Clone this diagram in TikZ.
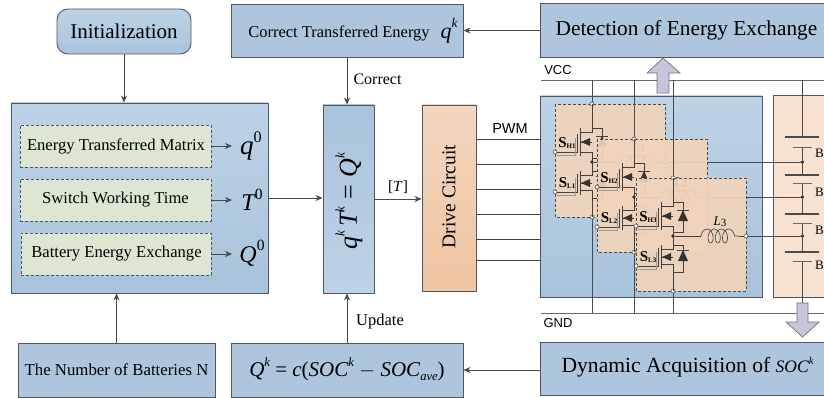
\documentclass[tikz,border=0pt]{standalone}
\usepackage{fontspec}
\setmainfont{Liberation Serif}
\newfontfamily\arialf{Liberation Sans}
\usetikzlibrary{arrows.meta,decorations.pathmorphing}
\newcommand{\fsz}[1]{\fontsize{#1}{#1}\selectfont}
\newcommand{\upx}[2][.6]{\raisebox{.48em}{\scalebox{#1}{#2}}}
\newcommand{\dnx}[2][.6]{\raisebox{-.2em}{\scalebox{#1}{#2}}}
\definecolor{edgec}{HTML}{4F5860}
\definecolor{wirec}{HTML}{4A4A4A}
\definecolor{blueT}{HTML}{BDD2E6}
\definecolor{blueB}{HTML}{A9C3DC}
\definecolor{blueM}{HTML}{ADC6DE}
\definecolor{peach}{HTML}{F1D4BA}
\definecolor{peachL}{HTML}{F8E3D2}
\definecolor{driveT}{HTML}{F3D6BE}
\definecolor{driveB}{HTML}{EFC4A2}
\definecolor{greenb}{HTML}{DDE5D3}
\definecolor{arrowfill}{HTML}{C9C3DB}
\tikzset{
  x=1pt,y=-1pt,
  boxs/.style={draw=edgec,line width=.9pt,inner sep=0pt,align=center,top color=blueT,bottom color=blueB},
  flatbox/.style={draw=edgec,line width=.9pt,inner sep=0pt,align=center,fill=blueM},
  dashbox/.style={draw=edgec,densely dashed,line width=.7pt,inner sep=0pt,fill=greenb,minimum width=191pt,minimum height=42pt},
  arr/.style={draw=wirec,line width=.8pt,-{Stealth[length=7pt,width=6pt]}},
  wire/.style={draw=wirec,line width=.8pt},
  thin wire/.style={draw=black!75,line width=.6pt},
  cellbox/.style={draw=black!70,densely dashed,line width=.7pt},
  opn/.style={circle,draw=black!75,fill=white,line width=.5pt,inner sep=0pt,minimum size=4pt},
  dotn/.style={circle,fill=black!80,inner sep=0pt,minimum size=3.6pt},
  txt/.style={inner sep=0pt},
  bigarrow/.style={draw=black!55,line width=.7pt,fill=arrowfill},
}
\newcommand{\swlab}[1]{{\fsz{15}\bfseries S}\raisebox{-.1em}{\fsz{7}\bfseries #1}}
% #1 id, #2 x, #3 y, #4 H label, #5 L label, #6 inductor name
\newcommand{\cellc}[6]{%
\begin{scope}[shift={(#2,#3)}]
  \fill[peach,fill opacity=.92] (0,0) rectangle (110,113);
  \draw[cellbox] (0,0) rectangle (110,113);
  \node[txt] (c#1hl) at (12,39) {\swlab{#4}};
  \node[txt] (c#1ll) at (12,79) {\swlab{#5}};
  \coordinate (c#1mid) at (37,58);
  \coordinate (c#1lst) at (65,58);
  \coordinate (c#1len) at (103,58);
  \node[opn] (c#1top) at (37,0) {};
  \node[opn] (c#1bot) at (37,113) {};
  \node[opn] (c#1gh) at (0,48) {};
  \node[opn] (c#1gl) at (0,88) {};
  \node[opn] (c#1out) at (110,58) {};
  \draw[thin wire] (37,0) -- (37,28) -- (25,28) (25,24) -- (25,52) (25,48) -- (37,48) -- (37,71) -- (25,71) (25,67) -- (25,91) (25,86) -- (37,86) -- (37,113);
  \draw[thin wire] (c#1gh) -- (22,48) -- (22,30) (c#1gl) -- (22,88) -- (22,70);
  \draw[draw=black!40,line width=.6pt] (2,51) -- (20,51) -- (20,34) (2,91) -- (20,91) -- (20,74);
  \draw[thin wire] (25,38) -- (37,38) (25,79) -- (37,79);
  \fill[black!80] (26,38) -- (35,34) -- (35,42) -- cycle (26,79) -- (35,75) -- (35,83) -- cycle;
  \draw[thin wire] (37,24) -- (47,24) -- (47,54) -- (37,54) (37,67) -- (47,67) -- (47,94) -- (37,94);
  \fill[black!80] (47,32) -- (52,43) -- (42,43) -- cycle (47,72) -- (52,83) -- (42,83) -- cycle;
  \draw[thin wire,line width=.8pt] (41,32) -- (53,32) (41,72) -- (53,72);
  \node[dotn] (c#1d) at (c#1mid) {};
  \draw[thin wire] (c#1d) -- (c#1lst);
  \draw[thin wire,decorate,decoration={coil,aspect=.6,segment length=7.2pt,amplitude=7pt}] (c#1lst) -- (c#1len);
  \draw[thin wire] (c#1len) -- (c#1out);
  \node[txt,font=\fsz{13}\itshape] (c#1lab) at (84,44) {L\raisebox{-.1em}{\fsz{11}\upshape #6}};
\end{scope}}
\begin{document}
\begin{tikzpicture}
\useasboundingbox (0,0) rectangle (824,398);
\clip (0,0) rectangle (824,398);
% upper and lower blocks
\node[boxs,rounded corners=11pt,minimum width=134pt,minimum height=45pt,font=\fsz{21}] (init) at (124,31.5) {Initialization};
\node[flatbox,minimum width=232pt,minimum height=53pt] (corr) at (347,30.5) {};
\node[txt,font=\fsz{16.5}] (corrt) at (339,33) {Correct Transferred Energy};
\node[txt,font=\fsz{22}\itshape] (corrq) at (449,31) {q\upx{k}};
\node[flatbox,minimum width=300pt,minimum height=54pt,anchor=west] (det) at (540,30) {};
\node[txt,font=\fsz{21.3}] (dett) at (686.5,30) {Detection of Energy Exchange};
\node[boxs,minimum width=257pt,minimum height=190pt] (left) at (139.5,198) {};
\node[dashbox] (b1) at (115.5,146) {};
\node[dashbox] (b2) at (115.5,200) {};
\node[dashbox,minimum width=190pt] (b3) at (116,254) {};
\node[txt,font=\fsz{16.6}] (b1t) at (116,146) {Energy Transferred Matrix};
\node[txt,font=\fsz{16.6}] (b2t) at (115.5,200) {Switch Working Time};
\node[txt,font=\fsz{16.6}] (b3t) at (116.5,254) {Battery Energy Exchange};
\node[txt,font=\fsz{27}\itshape] (q0) at (251,146) {q\upx{\upshape 0}};
\node[txt,font=\fsz{24}\itshape] (t0) at (252,200) {T\upx[.65]{\upshape 0}};
\node[txt,font=\fsz{24}\itshape] (q00) at (252,253) {Q\upx[.65]{\upshape 0}};
\node[draw=edgec,line width=.9pt,inner sep=0pt,top color=blueB,bottom color=blueT,minimum width=51pt,minimum height=188pt] (eq) at (348.5,199) {};
\node[txt,font=\fsz{26}\itshape,rotate=90] (eqt) at (349,201.5) {q\upx[.5]{k}\,T\upx[.5]{k}\;\textup{=}\;Q\upx[.5]{k}};
\node[draw=edgec,line width=.9pt,inner sep=0pt,top color=driveT,bottom color=driveB,minimum width=54pt,minimum height=186pt] (drive) at (449,198) {};
\node[txt,font=\fsz{19.5},rotate=90] (drivet) at (449,196.5) {Drive Circuit};
\node[flatbox,minimum width=197pt,minimum height=54pt,font=\fsz{16.8}] (num) at (116.5,370) {The Number of Batteries N};
\node[flatbox,minimum width=232pt,minimum height=54pt] (qk) at (347,370) {};
\node[txt,font=\fsz{21}\itshape] (qkt) at (347,369) {Q\upx{k} \textup{=} c\textup{(}SOC\upx{k} \textup{$-$} SOC\dnx{ave}\textup{)}};
\node[flatbox,minimum width=300pt,minimum height=53pt,anchor=west] (dyn) at (540,368.5) {};
\node[txt,font=\fsz{21.6}] (dynt) at (687.5,367) {Dynamic Acquisition of \textit{\fsz{17.5}SOC\upx{k}}};
% arrows
\draw[arr] (init.south) -- (init.south |- left.north);
\draw[arr] (num.north) -- (num.north |- left.south);
\draw[arr] (corr.south) -- (corr.south |- eq.north);
\draw[arr] (qk.north) -- (qk.north |- eq.south);
\draw[arr] (det.west |- corr.east) -- (corr.east);
\draw[arr] (dyn.west |- qk.east) -- (qk.east);
\draw[arr] (left.east) -- (left.east -| eq.west);
\draw[arr] (eq.east) -- (eq.east -| drive.west);
\draw[arr] (b1.east) -- (232,146);
\draw[arr] (b2.east) -- (232,200);
\draw[arr] (b3.east) -- (232,254);
\node[txt,font=\fsz{16}] (corl) at (377.5,79.5) {Correct};
\node[txt,font=\fsz{16.5}] (upl) at (380,322) {Update};
\node[txt,font=\fsz{15.5}] (tl) at (398,187) {[\textit{T}]};
\node[txt,font=\arialf\fsz{14.5}] (pwm) at (510,129) {PWM};
% circuit panels
\node[boxs,minimum width=222pt,minimum height=201pt] (pan) at (651,196.5) {};
\node[draw=edgec,line width=.7pt,inner sep=0pt,fill=peachL,minimum width=80pt,minimum height=202pt,anchor=west] (batp) at (773,196) {};
\coordinate (p1) at (540,139); \coordinate (p2) at (540,164); \coordinate (p3) at (540,189);
\coordinate (p4) at (540,214); \coordinate (p5) at (540,239); \coordinate (p6) at (540,260);
\foreach \k in {1,...,6} \draw[thin wire] (p\k) -- (p\k -| drive.east);
\coordinate (n1c) at (802.5,162);
\coordinate (n2c) at (802.5,197);
\cellc{1}{555}{104}{H1}{L1}{1}
\draw[thin wire] (c1out) -- (c1out -| n1c);
\cellc{2}{597}{139}{H2}{L2}{2}
\draw[thin wire] (c2out) -- (c2out -| n2c);
\cellc{3}{636}{178}{H3}{L3}{3}
% rails
\coordinate (vl) at (541,80); \coordinate (vr) at (824,80);
\coordinate (gl) at (541,313); \coordinate (gr) at (824,313);
\draw[thin wire,black!60] (vl) -- (vr);
\draw[thin wire,black!60] (gl) -- (gr);
\node[txt,font=\arialf\fsz{13}] (vcc) at (558,70) {VCC};
\node[txt,font=\arialf\fsz{13}] (gnd) at (558,323) {GND};
% rail drops
\foreach \k in {1,2,3} {
  \draw[wire] (c\k top |- vl) -- (c\k top);
  \draw[wire] (c\k bot) -- (c\k bot |- gl);
}
% batteries
\coordinate (bt) at (802.5,80);
\node[dotn] (n1) at (n1c) {};
\node[dotn] (n2) at (n2c) {};
\node[dotn] (n3) at (802.5,236) {};
\coordinate (ba) at (802.5,303);
\draw[wire] (bt) -- (802.5,137);
\draw[wire] (802.5,147) -- (n1) -- (802.5,175);
\draw[wire] (802.5,183) -- (n2) -- (802.5,214);
\draw[wire] (802.5,223) -- (n3) -- (802.5,252);
\draw[wire] (802.5,261) -- (ba);
\foreach \y in {137,175,214,252} \draw[draw=black!70,line width=1.6pt] (785,\y) -- (819,\y);
\foreach \y in {147,183,223,261} \draw[draw=black!60,line width=.7pt] (793,\y) -- (812,\y);
\node[txt,font=\fsz{13}] (bb1) at (819.5,153) {B};
\node[txt,font=\fsz{13}] (bb2) at (819.5,192) {B};
\node[txt,font=\fsz{13}] (bb3) at (819.5,230) {B};
\node[txt,font=\fsz{13}] (bb4) at (819.5,265) {B};
\draw[wire] (c2out |- n1) -- (n1);
\draw[wire] (c3out |- n2) -- (n2);
\draw[wire] (c3out) -- (n3);
% big arrows
\draw[bigarrow] (657,93) -- (669,93) -- (669,73) -- (680,73) -- (663,58) -- (647,73) -- (657,73) -- cycle;
\draw[bigarrow] (797,303) -- (808,303) -- (808,322) -- (819,322) -- (802.5,337) -- (786,322) -- (797,322) -- cycle;
\end{tikzpicture}
\end{document}
